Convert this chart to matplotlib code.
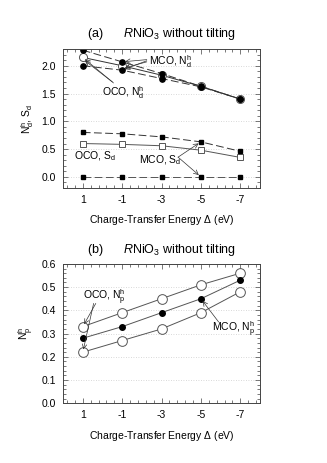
import matplotlib
matplotlib.use('Agg')
import matplotlib.pyplot as plt
from matplotlib.ticker import AutoMinorLocator, MultipleLocator

plt.rcParams['font.family'] = ['Liberation Sans', 'DejaVu Sans']
plt.rcParams['mathtext.fontset'] = 'custom'
plt.rcParams['mathtext.rm'] = 'Liberation Sans'
plt.rcParams['mathtext.it'] = 'Liberation Sans:italic'

# charge-transfer energy (eV)
delta = [1, -1, -3, -5, -7]
delta_labels = ['1', '-1', '-3', '-5', '-7']

# panel (a): N^h_d and S_d
mco_nd_hi = [2.28, 2.07, 1.86, 1.63, 1.40]
oco_nd = [2.15, 2.00, 1.83, 1.63, 1.40]
mco_nd_lo = [2.00, 1.92, 1.77, 1.62, 1.40]
mco_sd_hi = [0.80, 0.775, 0.72, 0.63, 0.46]
oco_sd = [0.60, 0.585, 0.56, 0.48, 0.35]
mco_sd_lo = [0.0, 0.0, 0.0, 0.0, 0.0]

# panel (b): N^h_p
oco_np_hi = [0.33, 0.39, 0.45, 0.51, 0.56]
mco_np = [0.28, 0.33, 0.39, 0.45, 0.53]
oco_np_lo = [0.22, 0.27, 0.32, 0.39, 0.48]

fig = plt.figure(figsize=(3.27, 4.63), dpi=100)
ax1 = fig.add_axes([0.193, 0.594, 0.602, 0.300])
ax2 = fig.add_axes([0.193, 0.129, 0.602, 0.301])

dash = (0, (8, 3.5))
lw = 0.7
fs = 7.5


def style(ax):
    ax.set_xlim(2, -8)
    ax.set_xticks(delta)
    ax.set_xticklabels(delta_labels)
    ax.xaxis.set_minor_locator(AutoMinorLocator(5))
    ax.yaxis.set_minor_locator(AutoMinorLocator(5))
    ax.tick_params(which='both', direction='in', top=True, right=True,
                   labelsize=fs, width=0.5, color='#444444')
    ax.tick_params(which='major', length=3.5, pad=5)
    ax.tick_params(which='minor', length=2)
    ax.grid(axis='y', which='major', linestyle=(0, (1, 2)), color='#cccccc', linewidth=0.6)
    ax.set_axisbelow(True)
    for s in ax.spines.values():
        s.set_linewidth(0.7)
        s.set_color('#444444')
    ax.set_xlabel('Charge-Transfer Energy $\\Delta$ (eV)', fontsize=fs, labelpad=6)


def arrow(ax, start, end):
    ax.annotate('', xy=end, xytext=start,
                arrowprops=dict(arrowstyle='->', lw=0.5, color='#333333',
                                shrinkA=0, shrinkB=2, mutation_scale=8))


# (a)
ax1.plot(delta, oco_nd, '-', color='#333333', lw=lw, marker='o', ms=5.8,
         mfc='white', mec='#555555', mew=0.7)
ax1.plot(delta, mco_nd_hi, linestyle=dash, color='#333333', lw=lw, marker='o', ms=3.8,
         mfc='black', mec='black')
ax1.plot(delta, mco_nd_lo, linestyle=dash, color='#333333', lw=lw, marker='o', ms=3.8,
         mfc='black', mec='black')
ax1.plot(delta, oco_sd, '-', color='#555555', lw=lw, marker='s', ms=4.8,
         mfc='white', mec='#555555', mew=0.7)
ax1.plot(delta, mco_sd_hi, linestyle=dash, color='#333333', lw=lw, marker='s', ms=3.2,
         mfc='black', mec='black')
ax1.plot(delta, mco_sd_lo, linestyle=dash, color='#555555', lw=lw, marker='s', ms=3.2,
         mfc='black', mec='black')

ax1.set_ylim(-0.2, 2.3)
ax1.yaxis.set_major_locator(MultipleLocator(0.5))
style(ax1)
ax1.set_ylabel('N$^\\mathrm{h}_\\mathrm{d}$, S$_\\mathrm{d}$', fontsize=fs)
ax1.set_title('(a)      $R$NiO$_3$ without tilting', fontsize=9, pad=9)

ax1.text(-2.38, 2.08, 'MCO, N$^\\mathrm{h}_\\mathrm{d}$', fontsize=fs, va='center')
arrow(ax1, (-2.25, 2.11), (-1, 2.07))
arrow(ax1, (-2.25, 2.09), (-1, 1.92))
arrow(ax1, (-2.25, 2.07), (-1, 1.95))
ax1.text(0.04, 1.51, 'OCO, N$^\\mathrm{h}_\\mathrm{d}$', fontsize=fs, va='center')
arrow(ax1, (-0.56, 1.69), (1, 2.15))
arrow(ax1, (-0.5, 1.71), (1, 2.12))
ax1.text(1.46, 0.37, 'OCO, S$_\\mathrm{d}$', fontsize=fs, va='center')
ax1.text(-1.86, 0.30, 'MCO, S$_\\mathrm{d}$', fontsize=fs, va='center')
arrow(ax1, (-3.84, 0.355), (-5, 0.63))
arrow(ax1, (-3.84, 0.355), (-5, 0.0))

# (b)
ax2.plot(delta, oco_np_hi, '-', color='#555555', lw=lw, marker='o', ms=7,
         mfc='white', mec='#555555', mew=0.7)
ax2.plot(delta, mco_np, '-', color='#555555', lw=lw, marker='o', ms=4,
         mfc='black', mec='black')
ax2.plot(delta, oco_np_lo, '-', color='#555555', lw=lw, marker='o', ms=7,
         mfc='white', mec='#555555', mew=0.7)

ax2.set_ylim(0, 0.6)
ax2.yaxis.set_major_locator(MultipleLocator(0.1))
style(ax2)
ax2.set_ylabel('N$^\\mathrm{h}_\\mathrm{p}$', fontsize=fs)
ax2.set_title('(b)      $R$NiO$_3$ without tilting', fontsize=9, pad=8)

ax2.text(1.0, 0.455, 'OCO, N$^\\mathrm{h}_\\mathrm{p}$', fontsize=fs, va='center')
arrow(ax2, (0.34, 0.43), (1, 0.33))
arrow(ax2, (0.45, 0.43), (1, 0.22))
ax2.text(-5.54, 0.32, 'MCO, N$^\\mathrm{h}_\\mathrm{p}$', fontsize=fs, va='center')
arrow(ax2, (-5.9, 0.35), (-5, 0.45))

fig.savefig('out.png', dpi=100)
